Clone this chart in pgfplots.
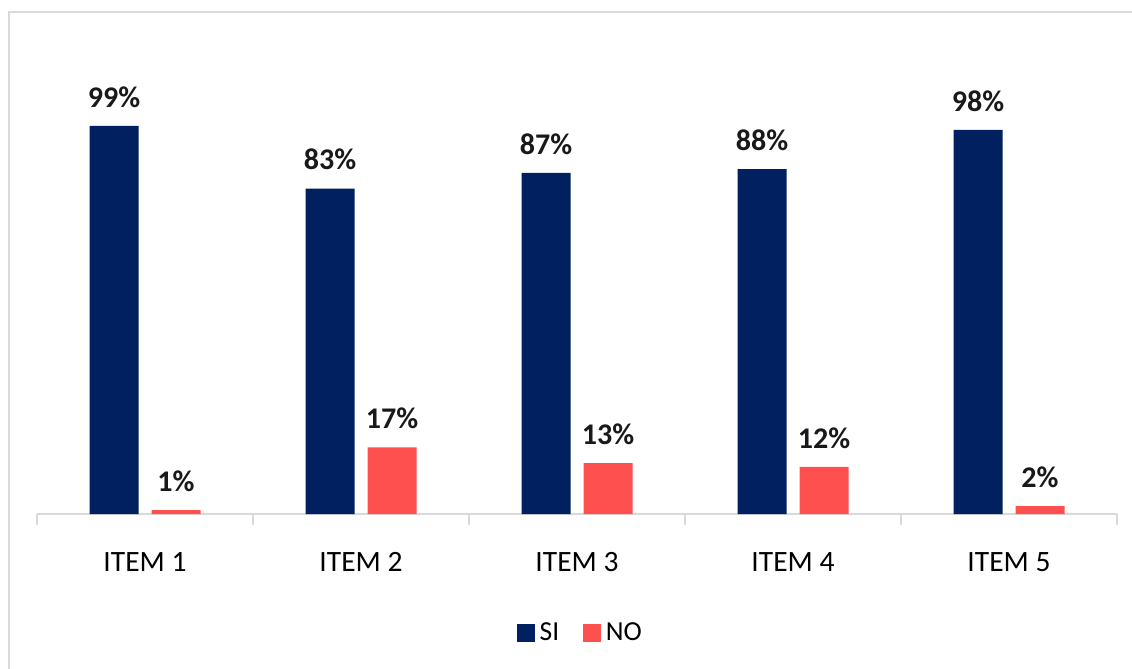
\documentclass[border=0pt]{standalone}
\usepackage{fontspec}
\setmainfont{Carlito}
\usepackage{pgfplots}
\pgfplotsset{compat=1.18}
\definecolor{navy}{HTML}{002060}
\definecolor{coral}{HTML}{FF5050}
\definecolor{lgray}{HTML}{D9D9D9}
\begin{document}
\begin{tikzpicture}
\useasboundingbox (-14.8pt,-62pt) rectangle (438pt,205.6pt);
\draw[lgray, line width=0.7pt] (-11.2pt,-80pt) -- (-11.2pt,200.8pt) -- (460pt,200.8pt);
\begin{axis}[
 at={(0,0)}, anchor=south west,
 scale only axis, width=432pt, height=188.16pt,
 xmin=-0.5, xmax=4.5, ymin=0, ymax=120,
 ybar=5.2pt, bar width=19.6pt,
 axis x line=bottom, axis y line=none,
 x axis line style={lgray, line width=0.6pt, -},
 xtick={0,1,2,3,4},
 xticklabels={ITEM 1,ITEM 2,ITEM 3,ITEM 4,ITEM 5},
 major tick length=0pt,
 minor xtick={-0.5,0.5,1.5,2.5,3.5,4.5},
 minor tick length=4.4pt,
 tick align=outside,
 minor tick style={lgray, line width=0.6pt},
 xticklabel style={anchor=center, yshift=-19.2pt, font=\fontsize{11.8}{14}\selectfont, text=black},
 ytick=\empty,
 /pgf/number format/assume math mode=true,
 nodes near coords={\pgfmathprintnumber{\pgfplotspointmeta}\%},
 every node near coord/.append style={anchor=center, yshift=11.6pt, font=\bfseries\fontsize{12}{14}\selectfont, text=black!90},
 legend style={at={(0.5,0)}, anchor=center, xshift=2pt, yshift=-47.6pt, draw=none, legend columns=-1, font=\fontsize{11}{13}\selectfont, text=black, /tikz/every even column/.append style={column sep=7.6pt}},
 legend image code/.code={\fill[#1] (0pt,-3.5pt) rectangle (7pt,3.5pt);},
]
\addplot[fill=navy, draw=none] coordinates {(0,99) (1,83) (2,87) (3,88) (4,98)};
\addplot[fill=coral, draw=none] coordinates {(0,1) (1,17) (2,13) (3,12) (4,2)};
\legend{SI,NO}
\end{axis}
\end{tikzpicture}
\end{document}
